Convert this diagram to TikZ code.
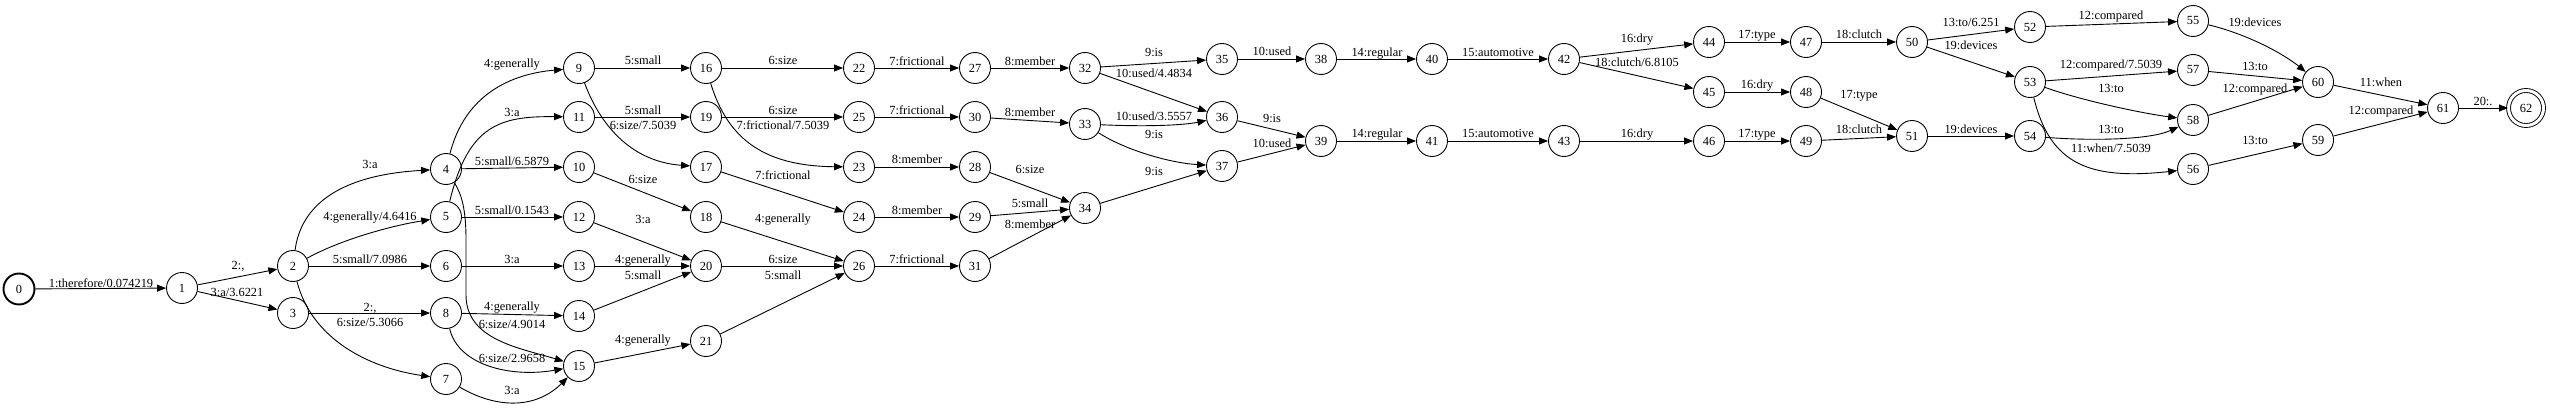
\documentclass[tikz,border=0pt]{standalone}
\usepackage{fontspec}
\setmainfont{Liberation Serif}
\usetikzlibrary{arrows.meta}
\begin{document}
\begin{tikzpicture}[x=1pt,y=1pt,
  st/.style={circle,draw,line width=0.9pt,minimum size=31pt,inner sep=0pt,font=\fontsize{12.4}{14}\selectfont},
  startst/.style={st,line width=1.9pt},
  finalst/.style={st,double,double distance=3pt,line width=0.9pt,minimum size=35pt},
  e/.style={draw,line width=0.9pt,-{Triangle[length=9pt,width=7pt]}},
  lbl/.style={anchor=base,inner sep=0pt,font=\fontsize{12.4}{14}\selectfont}]
\useasboundingbox (0,0) rectangle (2550,-409);
% states
\node[startst] (n0) at (19,-289) {0};
\node[st] (n1) at (182,-288) {1};
\node[st] (n2) at (293,-266) {2};
\node[st] (n3) at (293,-313) {3};
\node[st] (n4) at (446,-169) {4};
\node[st] (n5) at (446,-217) {5};
\node[st] (n6) at (446,-266) {6};
\node[st] (n8) at (446,-313) {8};
\node[st] (n7) at (446,-379) {7};
\node[st] (n9) at (579,-68) {9};
\node[st] (n11) at (579,-117) {11};
\node[st] (n10) at (579,-167) {10};
\node[st] (n12) at (579,-217) {12};
\node[st] (n13) at (579,-266) {13};
\node[st] (n14) at (579,-316) {14};
\node[st] (n15) at (579,-366) {15};
\node[st] (n16) at (706,-68) {16};
\node[st] (n19) at (706,-117) {19};
\node[st] (n17) at (706,-167) {17};
\node[st] (n18) at (706,-217) {18};
\node[st] (n20) at (706,-266) {20};
\node[st] (n21) at (706,-341) {21};
\node[st] (n22) at (859,-68) {22};
\node[st] (n25) at (859,-117) {25};
\node[st] (n23) at (859,-167) {23};
\node[st] (n24) at (859,-217) {24};
\node[st] (n26) at (859,-266) {26};
\node[st] (n27) at (975,-68) {27};
\node[st] (n30) at (975,-117) {30};
\node[st] (n28) at (975,-167) {28};
\node[st] (n29) at (975,-217) {29};
\node[st] (n31) at (975,-266) {31};
\node[st] (n32) at (1085,-68) {32};
\node[st] (n33) at (1085,-124) {33};
\node[st] (n34) at (1085,-208) {34};
\node[st] (n35) at (1222,-59) {35};
\node[st] (n36) at (1222,-117) {36};
\node[st] (n37) at (1222,-166) {37};
\node[st] (n38) at (1321,-59) {38};
\node[st] (n39) at (1321,-141) {39};
\node[st] (n40) at (1432,-59) {40};
\node[st] (n41) at (1432,-141) {41};
\node[st] (n42) at (1564,-59) {42};
\node[st] (n43) at (1564,-141) {43};
\node[st] (n44) at (1709,-42) {44};
\node[st] (n45) at (1709,-92) {45};
\node[st] (n46) at (1709,-141) {46};
\node[st] (n47) at (1806,-42) {47};
\node[st] (n48) at (1806,-92) {48};
\node[st] (n49) at (1806,-141) {49};
\node[st] (n50) at (1912,-42) {50};
\node[st] (n51) at (1912,-136) {51};
\node[st] (n52) at (2030,-27) {52};
\node[st] (n53) at (2030,-82) {53};
\node[st] (n54) at (2030,-136) {54};
\node[st] (n55) at (2193,-21) {55};
\node[st] (n57) at (2193,-70) {57};
\node[st] (n58) at (2193,-120) {58};
\node[st] (n56) at (2193,-169) {56};
\node[st] (n60) at (2318,-82) {60};
\node[st] (n59) at (2318,-140) {59};
\node[st] (n61) at (2443,-108) {61};
\node[finalst] (n62) at (2526,-108) {62};
% arcs
\draw[e] (n0) -- (n1) node[lbl] at (101,-287) {1:therefore/0.074219};
\draw[e] (n1) -- (n2) node[lbl] at (238,-269) {2:,};
\draw[e] (n1) -- (n3) node[lbl] at (237,-296) {3:a/3.6221};
\draw[e] (n2) .. controls (301,-205) and (340,-175) .. (n4) node[lbl] at (370,-168) {3:a};
\draw[e] (n2) .. controls (340,-240) and (390,-226) .. (n5) node[lbl] at (370,-220) {4:generally/4.6416};
\draw[e] (n2) -- (n6) node[lbl] at (370,-263) {5:small/7.0986};
\draw[e] (n2) .. controls (312,-340) and (370,-368) .. (n7) node[lbl] at (370,-326) {6:size/5.3066};
\draw[e] (n3) -- (n8) node[lbl] at (370,-311) {2:,};
\draw[e] (n4) .. controls (465,-95) and (510,-74) .. (n9) node[lbl] at (512,-68) {4:generally};
\draw[e] (n5) .. controls (468,-125) and (500,-116) .. (n11) node[lbl] at (512,-117) {3:a};
\draw[e] (n4) -- (n10) node[lbl] at (512,-165) {5:small/6.5879};
\draw[e] (n5) -- (n12) node[lbl] at (512,-214) {5:small/0.1543};
\draw[e] (n6) -- (n13) node[lbl] at (512,-263) {3:a};
\draw[e] (n8) -- (n14) node[lbl] at (512,-310) {4:generally};
\draw[e] (n4) .. controls (462,-195) and (466,-210) .. (466,-240) -- (466,-295) .. controls (466,-340) and (520,-348) .. (n15) node[lbl] at (512,-328) {6:size/4.9014};
\draw[e] (n8) .. controls (458,-365) and (510,-378) .. (n15) node[lbl] at (512,-362) {6:size/2.9658};
\draw[e] (n7) .. controls (495,-408) and (535,-410) .. (n15) node[lbl] at (512,-394) {3:a};
\draw[e] (n9) -- (n16) node[lbl] at (643,-65) {5:small};
\draw[e] (n11) -- (n19) node[lbl] at (643,-114) {5:small};
\draw[e] (n9) .. controls (602,-130) and (635,-162) .. (n17) node[lbl] at (643,-130) {6:size/7.5039};
\draw[e] (n10) -- (n18) node[lbl] at (643,-183) {6:size};
\draw[e] (n12) -- (n20) node[lbl] at (643,-223) {3:a};
\draw[e] (n13) -- (n20) node[lbl] at (643,-263) {4:generally};
\draw[e] (n14) -- (n20) node[lbl] at (643,-279) {5:small};
\draw[e] (n15) -- (n21) node[lbl] at (643,-343) {4:generally};
\draw[e] (n16) -- (n22) node[lbl] at (783,-65) {6:size};
\draw[e] (n19) -- (n25) node[lbl] at (783,-114) {6:size};
\draw[e] (n16) .. controls (728,-140) and (765,-166) .. (n23) node[lbl] at (783,-130) {7:frictional/7.5039};
\draw[e] (n17) -- (n24) node[lbl] at (783,-179) {7:frictional};
\draw[e] (n18) -- (n26) node[lbl] at (783,-222) {4:generally};
\draw[e] (n20) -- (n26) node[lbl] at (783,-263) {6:size};
\draw[e] (n21) -- (n26) node[lbl] at (783,-279) {5:small};
\draw[e] (n22) -- (n27) node[lbl] at (917,-66) {7:frictional};
\draw[e] (n25) -- (n30) node[lbl] at (917,-115) {7:frictional};
\draw[e] (n23) -- (n28) node[lbl] at (917,-164) {8:member};
\draw[e] (n24) -- (n29) node[lbl] at (917,-214) {8:member};
\draw[e] (n26) -- (n31) node[lbl] at (917,-263) {7:frictional};
\draw[e] (n27) -- (n32) node[lbl] at (1030,-66) {8:member};
\draw[e] (n30) -- (n33) node[lbl] at (1030,-117) {8:member};
\draw[e] (n28) -- (n34) node[lbl] at (1030,-173) {6:size};
\draw[e] (n29) -- (n34) node[lbl] at (1030,-207) {5:small};
\draw[e] (n31) -- (n34) node[lbl] at (1030,-228) {8:member};
\draw[e] (n32) -- (n35) node[lbl] at (1154,-57) {9:is};
\draw[e] (n32) -- (n36) node[lbl] at (1154,-78) {10:used/4.4834};
\draw[e] (n33) .. controls (1150,-127) and (1185,-125) .. (n36) node[lbl] at (1154,-121) {10:used/3.5557};
\draw[e] (n33) .. controls (1125,-150) and (1170,-163) .. (n37) node[lbl] at (1154,-139) {9:is};
\draw[e] (n34) -- (n37) node[lbl] at (1154,-175) {9:is};
\draw[e] (n35) -- (n38) node[lbl] at (1272,-56) {10:used};
\draw[e] (n36) -- (n39) node[lbl] at (1272,-123) {9:is};
\draw[e] (n37) -- (n39) node[lbl] at (1272,-147) {10:used};
\draw[e] (n38) -- (n40) node[lbl] at (1377,-57) {14:regular};
\draw[e] (n39) -- (n41) node[lbl] at (1377,-138) {14:regular};
\draw[e] (n40) -- (n42) node[lbl] at (1498,-57) {15:automotive};
\draw[e] (n41) -- (n43) node[lbl] at (1498,-138) {15:automotive};
\draw[e] (n42) -- (n44) node[lbl] at (1637,-43) {16:dry};
\draw[e] (n42) -- (n45) node[lbl] at (1637,-67) {18:clutch/6.8105};
\draw[e] (n43) -- (n46) node[lbl] at (1637,-138) {16:dry};
\draw[e] (n44) -- (n47) node[lbl] at (1757,-39) {17:type};
\draw[e] (n45) -- (n48) node[lbl] at (1757,-89) {16:dry};
\draw[e] (n46) -- (n49) node[lbl] at (1757,-138) {17:type};
\draw[e] (n47) -- (n50) node[lbl] at (1859,-39) {18:clutch};
\draw[e] (n48) -- (n51) node[lbl] at (1859,-99) {17:type};
\draw[e] (n49) -- (n51) node[lbl] at (1859,-134) {18:clutch};
\draw[e] (n50) -- (n52) node[lbl] at (1971,-27) {13:to/6.251};
\draw[e] (n50) -- (n53) node[lbl] at (1971,-50) {19:devices};
\draw[e] (n51) -- (n54) node[lbl] at (1971,-133) {19:devices};
\draw[e] (n52) -- (n55) node[lbl] at (2111,-20) {12:compared};
\draw[e] (n53) -- (n57) node[lbl] at (2111,-69) {12:compared/7.5039};
\draw[e] (n53) .. controls (2080,-100) and (2140,-113) .. (n58) node[lbl] at (2111,-93) {13:to};
\draw[e] (n54) .. controls (2090,-141) and (2150,-140) .. (n58) node[lbl] at (2111,-133) {13:to};
\draw[e] (n53) .. controls (2050,-165) and (2090,-180) .. (n56) node[lbl] at (2111,-153) {11:when/7.5039};
\draw[e] (n55) .. controls (2250,-35) and (2285,-55) .. (n60) node[lbl] at (2255,-27) {19:devices};
\draw[e] (n57) -- (n60) node[lbl] at (2255,-71) {13:to};
\draw[e] (n58) -- (n60) node[lbl] at (2255,-93) {12:compared};
\draw[e] (n56) -- (n59) node[lbl] at (2255,-144) {13:to};
\draw[e] (n60) -- (n61) node[lbl] at (2381,-87) {11:when};
\draw[e] (n59) -- (n61) node[lbl] at (2381,-114) {12:compared};
\draw[e] (n61) -- (n62) node[lbl] at (2483,-106) {20:.};
\end{tikzpicture}
\end{document}
